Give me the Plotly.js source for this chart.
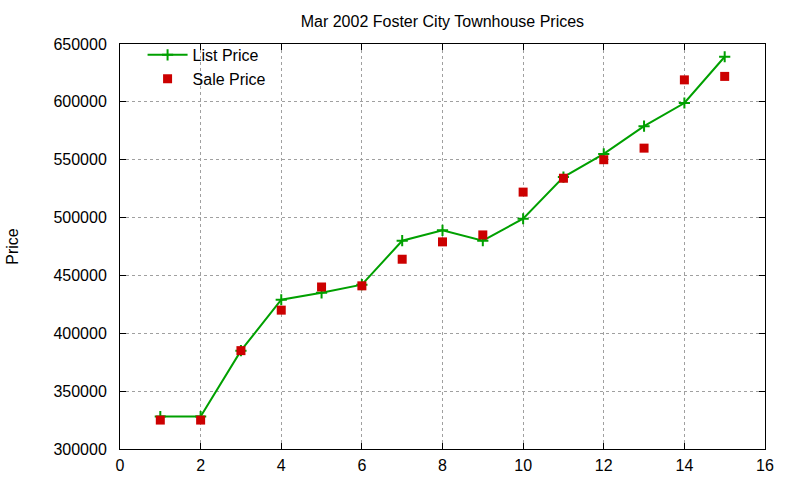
<!DOCTYPE html>
<html>
<head>
<meta charset="utf-8">
<script src="https://cdn.plot.ly/plotly-3.0.1.min.js"></script>
<style>
  html, body { margin: 0; padding: 0; background: #fff; }
  #chart { width: 800px; height: 480px; }
</style>
</head>
<body>
<div id="chart"></div>
<script>
// house number along the street, 1..15
const houses = [1, 2, 3, 4, 5, 6, 7, 8, 9, 10, 11, 12, 13, 14, 15];
const listPrice = [328000, 328000, 385000, 429000, 435000, 442000, 480000, 489000,
                   480000, 499000, 535000, 555000, 579000, 599000, 639000];
const salePrice = [325000, 325000, 385000, 420000, 440000, 441000, 464000, 479000,
                   485000, 522000, 534000, 550000, 560000, 619000, 622000];

const font = {family: '"Liberation Sans", Arial, sans-serif', size: 16, color: '#000'};

const traces = [
  {
    x: houses, y: listPrice, name: 'List Price',
    mode: 'lines+markers', type: 'scatter',
    line: {color: '#00a000', width: 2},
    marker: {symbol: 'cross-thin', size: 8, line: {color: '#00a000', width: 2}}
  },
  {
    x: houses, y: salePrice, name: 'Sale Price',
    mode: 'markers', type: 'scatter',
    marker: {symbol: 'square', size: 9, color: '#cc0000'}
  }
];

const axisCommon = {
  showline: true, linecolor: '#000', linewidth: 1, mirror: 'ticks',
  ticks: 'inside', ticklen: 6, tickcolor: '#000',
  showgrid: true, gridcolor: '#a0a0a0', griddash: 'dot', gridwidth: 1,
  zeroline: false, tickfont: font
};

const layout = {
  width: 800, height: 480,
  paper_bgcolor: '#fff', plot_bgcolor: '#fff',
  font: font,
  margin: {l: 120, r: 35, t: 44, b: 31},
  title: {text: 'Mar 2002 Foster City Townhouse Prices', font: font, x: 0.553, xanchor: 'center', y: 0.955, yanchor: 'middle'},
  showlegend: true,
  legend: {x: 0.035, y: 1.015, xanchor: 'left', yanchor: 'top', bgcolor: 'rgba(0,0,0,0)',
           font: font, tracegroupgap: 0, itemwidth: 40},
  xaxis: Object.assign({}, axisCommon, {range: [0, 16], dtick: 2, tick0: 0, ticklabelstandoff: 2}),
  yaxis: Object.assign({}, axisCommon, {
    range: [300000, 650000], dtick: 50000, tick0: 300000, tickformat: 'd',
    ticklabelstandoff: 9,
    title: {text: 'Price', font: font, standoff: 30}
  })
};

Plotly.newPlot('chart', traces, layout, {displayModeBar: false, staticPlot: true});
</script>
</body>
</html>
